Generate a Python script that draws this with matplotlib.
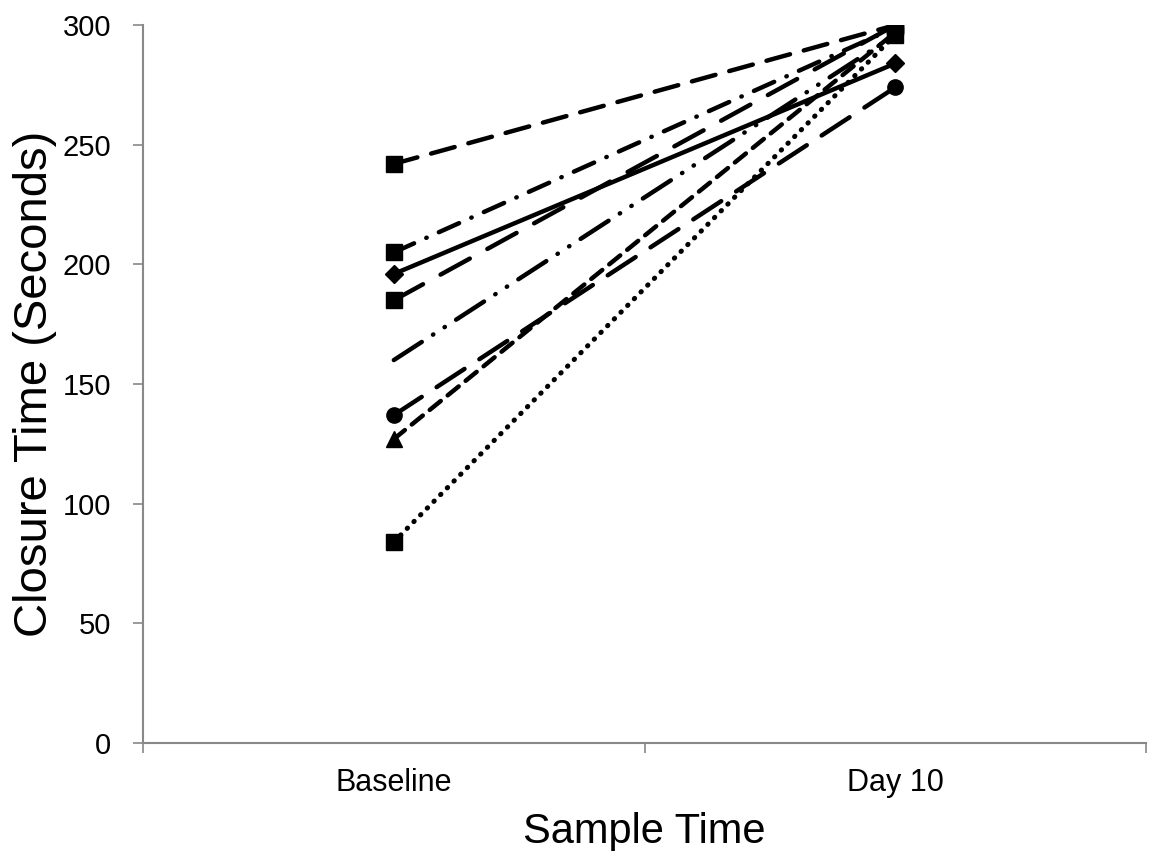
import numpy as np
import matplotlib
matplotlib.use("Agg")
import matplotlib.pyplot as plt

plt.rcParams['font.family'] = ['Liberation Sans', 'DejaVu Sans']

# sample times
x_labels = ["Baseline", "Day 10"]

# closure time per subject (baseline, day 10)
s1 = [242, 300]
s2 = [205, 299]
s3 = [196, 284]
s4 = [185, 300]
s5 = [160, 296]
s6 = [137, 274]
s7 = [127, 297]
s8 = [84, 296]

x = np.arange(1, len(x_labels) + 1)

fig = plt.figure(figsize=(11.49, 8.51), dpi=100)
ax = fig.add_axes([0.1245, 0.127, 0.873, 0.8435])

lw = 3.2
# dash patterns in units of line width
ax.plot(x, s1, color='black', lw=lw, marker='s', ms=11, dashes=(5.5, 3.2), dash_capstyle='round')
ax.plot(x, s2, color='black', lw=lw, marker='s', ms=11, dashes=(5.0, 3.0, 0.1, 3.0), dash_capstyle='round')
ax.plot(x, s3, color='black', lw=lw, marker='D', ms=9, linestyle='-')
ax.plot(x, s4, color='black', lw=lw, marker='s', ms=11, dashes=(7.5, 4.5), dash_capstyle='round')
ax.plot(x, s5, color='black', lw=lw, dashes=(7.5, 3.0, 0.1, 3.0, 0.1, 3.0), dash_capstyle='round')
ax.plot(x, s6, color='black', lw=lw, marker='o', ms=11, dashes=(7.5, 4.0), dash_capstyle='round')
ax.plot(x, s7, color='black', lw=lw, marker='^', ms=11, dashes=(3.2, 2.0), dash_capstyle='round')
ax.plot(x, s8, color='black', lw=3.6, marker='s', ms=11, dashes=(0.1, 1.8), dash_capstyle='round')

ax.set_xlim(0.5, 2.5)
ax.set_ylim(0, 300)
ax.set_yticks(np.arange(0, 301, 50))
ax.set_xticks(x)
ax.set_xticklabels(x_labels, fontsize=22)
ax.set_xticks([0.5, 1.5, 2.5], minor=True)
ax.tick_params(axis='x', which='major', length=0, pad=18)
ax.tick_params(axis='x', which='minor', length=7, color='#888888', width=1.2)
ax.tick_params(axis='y', length=7, color='#888888', width=1.2, labelsize=21, pad=16)

for side in ['top', 'right']:
    ax.spines[side].set_visible(False)
for side in ['left', 'bottom']:
    ax.spines[side].set_color('#888888')
    ax.spines[side].set_linewidth(1.5)

ax.set_xlabel("Sample Time", fontsize=30, labelpad=10)
ax.set_ylabel("Closure Time (Seconds)", fontsize=34, labelpad=4)

fig.savefig("out.png", dpi=100)
